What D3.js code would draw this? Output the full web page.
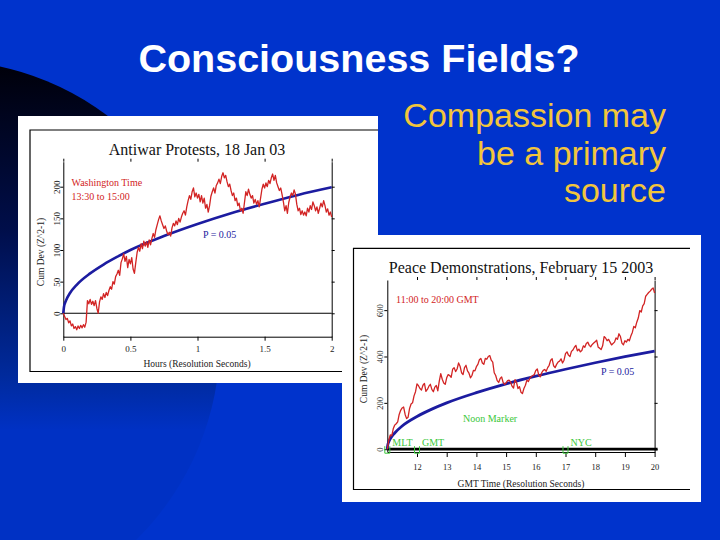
<!DOCTYPE html>
<html>
<head>
<meta charset="utf-8">
<script src="https://cdn.jsdelivr.net/npm/d3@7"></script>
<style>
  body { margin: 0; background: #0033cc; overflow: hidden; }
  svg { display: block; }
</style>
</head>
<body>
<svg id="slide" width="720" height="540"></svg>
<script>
// ---- data ----
// Antiwar Protests, 18 Jan 03: cumulative deviation, one value per 0.01 hour from 0
const antiwarStart = 0, antiwarStep = 0.01;
const antiwarDev = [
  0, -5, -10, -8, -15, -12, -20, -17, -24, -21,
  -26, -20, -24, -19, -23, -18, -22, -14, 20, 15,
  22, 14, 19, 12, 20, 8, 0, 18, 26, 22,
  31, 25, 33, 28, 36, 42, 38, 50, 46, 58,
  62, 68, 60, 80, 86, 94, 82, 90, 72, 85,
  78, 88, 70, 63, 80, 96, 104, 98, 110, 102,
  114, 106, 113, 104, 116, 108, 118, 126, 120, 132,
  140, 148, 154, 146, 140, 134, 138, 130, 124, 128,
  122, 135, 142, 138, 146, 140, 150, 144, 152, 158,
  162, 155, 168, 178, 186, 180, 192, 198, 184, 190,
  182, 188, 176, 186, 174, 182, 166, 172, 160, 170,
  185, 192, 198, 190, 202, 206, 212, 205, 216, 222,
  214, 218, 208, 200, 204, 194, 186, 190, 178, 182,
  170, 174, 162, 166, 158, 175, 192, 186, 196, 188,
  182, 186, 174, 180, 172, 178, 168, 182, 196, 204,
  198, 206, 200, 210, 205, 214, 220, 210, 218, 206,
  200, 194, 198, 188, 176, 162, 170, 158, 175, 184,
  190, 186, 195, 188, 172, 162, 166, 156, 162, 155,
  160, 154, 166, 160, 170, 164, 176, 170, 162, 168,
  158, 166, 174, 168, 178, 170, 160, 165, 155, 160,
  152
];
// P = 0.05 envelope
const antiwarEnvHours = [0, 0.005, 0.02, 0.05, 0.1, 0.2, 0.3, 0.4, 0.5, 0.75, 1, 1.25, 1.5, 1.75, 2];
const antiwarEnvDev   = [0, 10, 20, 32, 45, 63, 77, 89, 100, 122, 141, 158, 173, 187, 199];
const antiwarXTicks = [0, 0.5, 1, 1.5, 2];
const antiwarXLabels = ["0", "0.5", "1", "1.5", "2"];
const antiwarYTicks = [0, 50, 100, 150, 200];

// Peace Demonstrations, February 15 2003: one value per 0.05 hour from 11:00 GMT
const peaceStart = 11, peaceStep = 0.05;
const peaceDev = [
  0, 40, 62, 58, 88, 104, 110, 118, 150, 168,
  178, 182, 150, 132, 138, 176, 195, 200, 230, 248,
  282, 274, 262, 255, 276, 284, 250, 258, 272, 280,
  258, 248, 268, 275, 252, 294, 326, 302, 286, 280,
  308, 322, 318, 310, 345, 352, 335, 346, 372, 358,
  330, 322, 352, 362, 338, 328, 308, 318, 340, 338,
  356, 366, 386, 392, 372, 366, 392, 388, 400, 404,
  384, 376, 330, 318, 296, 288, 305, 312, 288, 280,
  286, 296, 298, 290, 272, 264, 300, 288, 262, 270,
  246, 240, 262, 276, 298, 292, 306, 314, 318, 322,
  340, 346, 320, 312, 330, 340, 344, 336, 352, 362,
  384, 390, 360, 352, 366, 376, 380, 390, 372, 384,
  412, 420, 406, 400, 422, 428, 440, 448, 424, 432,
  420, 426, 446, 440, 456, 462, 448, 442, 452, 458,
  464, 470, 440, 436, 430, 446, 486, 480, 468, 474,
  462, 450, 456, 462, 480, 474, 498, 486, 458, 450,
  468, 462, 474, 468, 488, 504, 530, 524, 548, 566,
  598, 592, 618, 628, 660, 668, 676, 682, 690, 696,
  674
];
const peaceEnvHours = [11, 11.01, 11.05, 11.1, 11.25, 11.5, 12, 12.5, 13, 14, 15, 16, 17, 18, 19, 20];
const peaceEnvDev   = [0, 14, 32, 45, 70, 100, 141, 173, 200, 244, 282, 315, 345, 373, 399, 423];
const peaceXTicks = [12, 13, 14, 15, 16, 17, 18, 19, 20];
const peaceYTicks = [0, 200, 400, 600];
const noonHours  = [11, 12, 17];
const noonLabels = ["MLT", "GMT", "NYC"];

const serif = "'Liberation Serif', 'Times New Roman', serif";
const sans = "'Liberation Sans', Arial, sans-serif";
const red = "#d22424", navy = "#1c1ca0", green = "#3cc83c";

const svg = d3.select("#slide");

// ---- slide background ----
const defs = svg.append("defs");
const shade = defs.append("linearGradient").attr("id", "shade")
  .attr("gradientUnits", "userSpaceOnUse")
  .attr("x1", 0).attr("y1", 65).attr("x2", 0).attr("y2", 430);
shade.append("stop").attr("offset", 0).attr("stop-color", "#00000a");
shade.append("stop").attr("offset", 0.45).attr("stop-color", "#000e4a");
shade.append("stop").attr("offset", 0.85).attr("stop-color", "#002a9c");
shade.append("stop").attr("offset", 1).attr("stop-color", "#0031c4");

svg.append("rect").attr("width", 720).attr("height", 540).attr("fill", "#0033cc");
svg.append("circle").attr("cx", -60).attr("cy", 340).attr("r", 280).attr("fill", "url(#shade)");

svg.append("text")
  .attr("x", 359).attr("y", 71.5)
  .attr("text-anchor", "middle")
  .style("font-family", sans).style("font-weight", "bold").style("font-size", "39.5px")
  .attr("fill", "#fff")
  .text("Consciousness Fields?");

svg.append("g").selectAll("text")
  .data(["Compassion may", "be a primary", "source"])
  .join("text")
  .attr("x", 666).attr("y", (d, i) => 127 + i * 37.5)
  .attr("text-anchor", "end")
  .style("font-family", sans).style("font-size", "34px")
  .attr("fill", "#f2c53c")
  .text(d => d);

// ---- one chart panel ----
function drawPanel(p) {
  const g = svg.append("g");
  g.append("rect")
    .attr("x", p.box[0]).attr("y", p.box[1]).attr("width", p.box[2]).attr("height", p.box[3])
    .attr("fill", "#fff");
  const [fx0, fy0, fx1, fy1] = p.frame;
  g.append("path")
    .attr("d", `M${fx1},${fy0}H${fx0}V${fy1}H${fx1}`)
    .attr("fill", "none").attr("stroke", "#000").attr("stroke-width", 1.2);

  const x = d3.scaleLinear().domain(p.xDomain).range(p.xRange);
  const y = d3.scaleLinear().domain(p.yDomain).range(p.yRange);
  const [left, right] = p.xRange, [bottom, top] = p.yRange;

  // left axis with rotated labels
  const ax = g.append("g").attr("transform", `translate(${left},0)`)
    .call(d3.axisLeft(y).tickValues(p.yTicks).tickSize(3).tickSizeOuter(0));
  ax.selectAll(".tick text")
    .attr("transform", "rotate(-90)")
    .attr("x", 0).attr("y", -p.yLabelGap).attr("dy", 0)
    .attr("text-anchor", "middle");

  // right axis, ticks only
  g.append("g").attr("transform", `translate(${right},0)`)
    .call(d3.axisRight(y).tickValues(p.yTicks).tickSize(3).tickSizeOuter(0).tickFormat(""));

  // top ticks, no line
  const tx = g.append("g").attr("transform", `translate(0,${top})`)
    .call(d3.axisTop(x).tickValues(p.xTicks).tickSize(3).tickFormat(""));
  tx.select(".domain").remove();

  // bottom axis
  g.append("g").attr("transform", `translate(0,${bottom})`)
    .call(d3.axisBottom(x).tickValues(p.xTicks).tickSize(p.xTickSize).tickSizeOuter(0)
      .tickPadding(p.xPad).tickFormat((d, i) => p.xLabels[i]));

  g.selectAll(".tick text")
    .style("font-family", serif).style("font-size", p.tickFont + "px").attr("fill", "#222");
  g.selectAll(".domain, .tick line").attr("stroke", "#000");

  // zero line
  g.append("line")
    .attr("x1", left).attr("x2", right + p.zeroExtra)
    .attr("y1", y(0)).attr("y2", y(0))
    .attr("stroke", "#000").attr("stroke-width", p.zeroWidth);

  const env = p.envHours.map((h, i) => [h, p.envDev[i]]);
  g.append("path").datum(env)
    .attr("d", d3.line().x(d => x(d[0])).y(d => y(d[1])).curve(d3.curveMonotoneX))
    .attr("fill", "none").attr("stroke", navy).attr("stroke-width", p.envWidth);

  const walk = p.dev.map((v, i) => [p.start + i * p.step, v]);
  g.append("path").datum(walk)
    .attr("d", d3.line().x(d => x(d[0])).y(d => y(d[1])))
    .attr("fill", "none").attr("stroke", red).attr("stroke-width", 1.3)
    .attr("stroke-linejoin", "round");

  // titles and axis names
  g.append("text").attr("x", p.titlePos[0]).attr("y", p.titlePos[1])
    .attr("text-anchor", "middle")
    .style("font-family", serif).style("font-size", "16px").attr("fill", "#111")
    .text(p.title);
  g.append("text").attr("x", p.xNamePos[0]).attr("y", p.xNamePos[1])
    .attr("text-anchor", "middle")
    .style("font-family", serif).style("font-size", p.nameFont + "px").attr("fill", "#222")
    .text(p.xName);
  g.append("text")
    .attr("transform", `translate(${p.yNamePos[0]},${p.yNamePos[1]}) rotate(-90)`)
    .attr("text-anchor", "middle")
    .style("font-family", serif).style("font-size", p.nameFont + "px").attr("fill", "#222")
    .text("Cum Dev (Z^2-1)");

  g.selectAll(".note")
    .data(p.notes)
    .join("text")
    .attr("class", "note")
    .attr("x", d => d.x).attr("y", d => d.y)
    .style("font-family", serif).style("font-size", d => d.size + "px")
    .attr("fill", d => d.color)
    .text(d => d.text);

  return {g, x, y};
}

drawPanel({
  box: [18, 116, 360, 267],
  frame: [30, 130, 378, 371.5],
  xDomain: [0, 2], xRange: [63.3, 331.7],
  yDomain: [-37, 239.5], yRange: [336.7, 161.7],
  xTicks: antiwarXTicks, xLabels: antiwarXLabels, yTicks: antiwarYTicks,
  xTickSize: 4, xPad: 5, yLabelGap: 3, tickFont: 9, nameFont: 9.5,
  zeroWidth: 1.1, zeroExtra: 0, envWidth: 2.6,
  start: antiwarStart, step: antiwarStep, dev: antiwarDev,
  envHours: antiwarEnvHours, envDev: antiwarEnvDev,
  title: "Antiwar Protests, 18 Jan 03", titlePos: [197, 155],
  xName: "Hours (Resolution Seconds)", xNamePos: [197, 367],
  yNamePos: [44, 252],
  notes: [
    {text: "Washington Time", x: 71.5, y: 186, size: 10, color: red},
    {text: "13:30 to 15:00", x: 71.5, y: 200, size: 10, color: red},
    {text: "P = 0.05", x: 203, y: 238, size: 10, color: navy}
  ]
});

const peace = drawPanel({
  box: [342, 235, 359, 267],
  frame: [353.5, 248.3, 690, 489.5],
  xDomain: [11, 20], xRange: [387.3, 654.6],
  yDomain: [-12, 730], yRange: [452, 280],
  xTicks: peaceXTicks, xLabels: peaceXTicks.map(String), yTicks: peaceYTicks,
  xTickSize: 5, xPad: 7, yLabelGap: 4, tickFont: 8.5, nameFont: 9.5,
  zeroWidth: 2.8, zeroExtra: 3, envWidth: 2.8,
  start: peaceStart, step: peaceStep, dev: peaceDev,
  envHours: peaceEnvHours, envDev: peaceEnvDev,
  title: "Peace Demonstrations, February 15 2003", titlePos: [521, 273],
  xName: "GMT Time (Resolution Seconds)", xNamePos: [521, 487],
  yNamePos: [367, 369],
  notes: [
    {text: "11:00 to 20:00 GMT", x: 396, y: 303, size: 10, color: red},
    {text: "P = 0.05", x: 601, y: 375, size: 10, color: navy},
    {text: "Noon Marker", x: 463, y: 422, size: 10, color: green}
  ]
});

// noon markers
const mk = peace.g.append("g").selectAll("g")
  .data(noonHours)
  .join("g")
  .attr("transform", d => `translate(${peace.x(d)},${peace.y(0)})`);
mk.append("path")
  .attr("d", "M-2.5,-3V4H2.5V-3")
  .attr("fill", "none").attr("stroke", green).attr("stroke-width", 1);
mk.append("text")
  .attr("x", 5).attr("y", -3)
  .style("font-family", serif).style("font-size", "10px")
  .attr("fill", green)
  .text((d, i) => noonLabels[i]);
</script>
</body>
</html>
